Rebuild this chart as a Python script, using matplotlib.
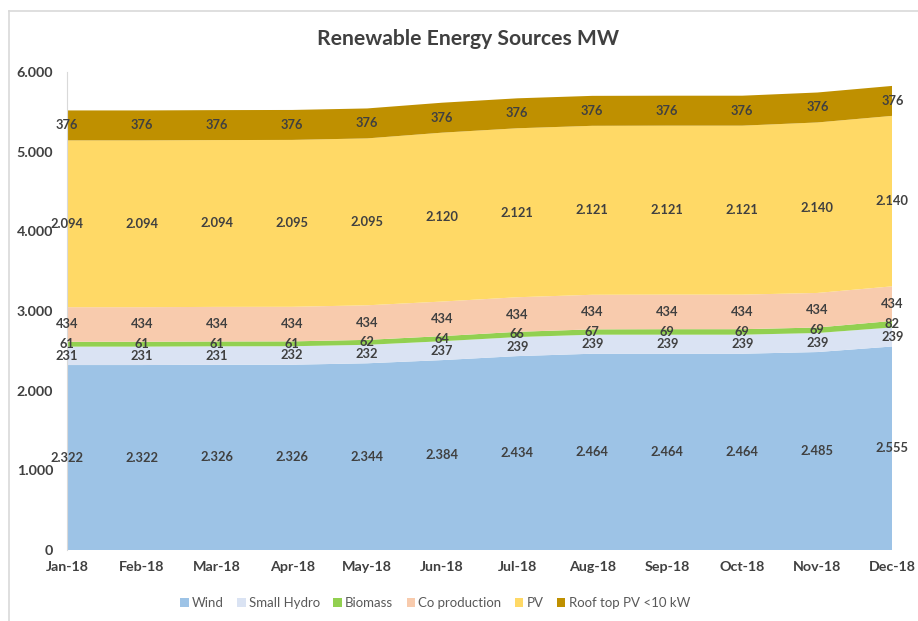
import matplotlib.pyplot as plt
import numpy as np
from matplotlib.lines import Line2D
from matplotlib.patches import Patch

plt.rcParams['font.family'] = ['Lato', 'DejaVu Sans']

months = ['Jan-18', 'Feb-18', 'Mar-18', 'Apr-18', 'May-18', 'Jun-18',
          'Jul-18', 'Aug-18', 'Sep-18', 'Oct-18', 'Nov-18', 'Dec-18']
series_names = ['Wind', 'Small Hydro', 'Biomass', 'Co production', 'PV', 'Roof top PV <10 kW']
wind = [2322, 2322, 2326, 2326, 2344, 2384, 2434, 2464, 2464, 2464, 2485, 2555]
small_hydro = [231, 231, 231, 232, 232, 237, 239, 239, 239, 239, 239, 239]
biomass = [61, 61, 61, 61, 62, 64, 66, 67, 69, 69, 69, 82]
co_production = [434] * 12
pv = [2094, 2094, 2094, 2095, 2095, 2120, 2121, 2121, 2121, 2121, 2140, 2140]
roof_pv = [376] * 12

colors = ['#9dc3e6', '#dae3f3', '#92d050', '#f8cbad', '#ffd966', '#bf9000']
txt = '#404040'

data = np.array([wind, small_hydro, biomass, co_production, pv, roof_pv])
x = np.arange(len(months))

fig = plt.figure(figsize=(9.18, 6.21), dpi=100)
ax = fig.add_axes([0.073, 0.1143, 0.899, 0.7697])

ax.stackplot(x, data, colors=colors, linewidth=0)

# etiquetas en el centro de cada banda
base = np.zeros(len(months))
for row in data:
    mids = base + row / 2
    for xi, yi, v in zip(x, mids, row):
        lab = f'{v:,}'.replace(',', '.')
        ax.text(xi, yi, lab, ha='center', va='center', fontsize=9.3,
                fontweight='bold', color=txt)
    base = base + row

ax.set_xlim(0, len(months) - 1)
ax.set_ylim(0, 6000)
ax.set_yticks(np.arange(0, 6001, 1000))
ax.set_yticklabels(['0' if t == 0 else f'{t:,}'.replace(',', '.') for t in range(0, 6001, 1000)])
ax.set_xticks(x)
ax.set_xticklabels(months)
ax.tick_params(length=0, labelsize=10.3, colors=txt, pad=8)
ax.tick_params(axis='y', pad=10)
for lbl in ax.get_xticklabels() + ax.get_yticklabels():
    lbl.set_fontweight('bold')

for s in ['top', 'right', 'bottom']:
    ax.spines[s].set_visible(False)
ax.spines['left'].set_color('#d9d9d9')

fig.text(0.51, 0.937, 'Renewable Energy Sources MW', ha='center', va='center',
         fontsize=15.2, fontweight='bold', color=txt)

handles = [Patch(facecolor=c, edgecolor='none') for c in colors]
fig.legend(handles, series_names, loc='center', bbox_to_anchor=(0.474, 0.029),
           ncol=6, frameon=False, fontsize=9.5, labelcolor='#595959',
           handlelength=0.65, handleheight=0.65, handletextpad=0.25, columnspacing=1.0)

# borde del gráfico (solo arriba e izquierda)
fig.add_artist(Line2D([0.0098, 1.0], [0.982, 0.982], color='#d9d9d9', lw=1.2,
                      transform=fig.transFigure))
fig.add_artist(Line2D([0.0098, 0.0098], [0.0, 0.982], color='#d9d9d9', lw=1.2,
                      transform=fig.transFigure))

fig.savefig('out.png', dpi=100)
